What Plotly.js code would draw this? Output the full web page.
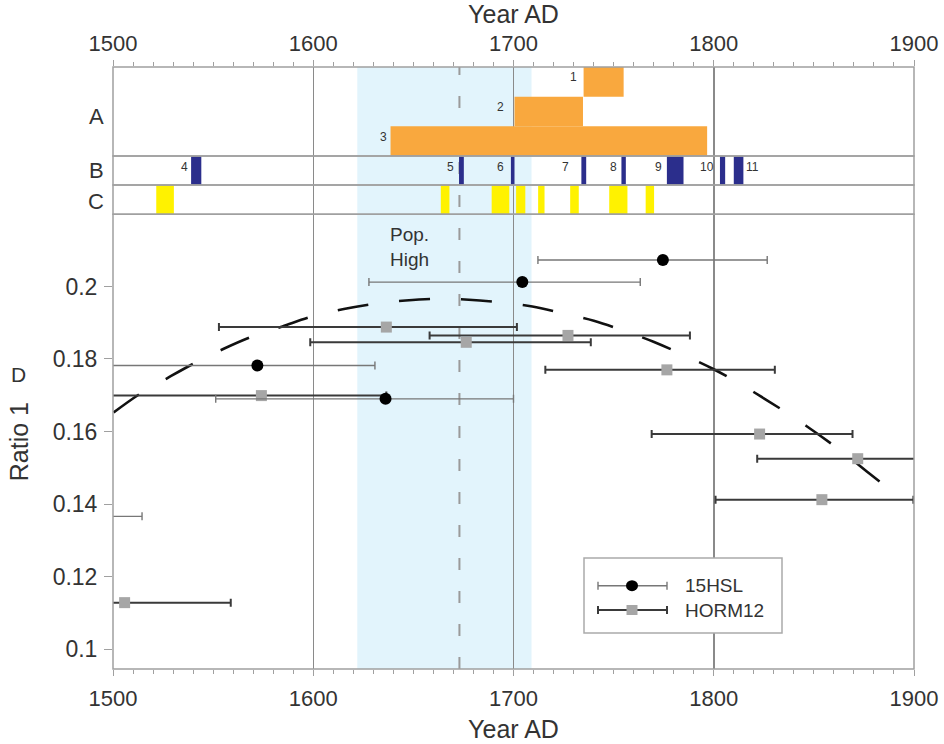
<!DOCTYPE html>
<html><head><meta charset="utf-8">
<script src="https://cdn.plot.ly/plotly-3.0.1.min.js"></script>
<style>html,body{margin:0;padding:0;background:#fff}</style>
</head><body><div id="chart" style="width:944px;height:744px"></div>
<script>
// ---------- DATA ----------
// Panel A (orange bars): rows top->bottom
const aLabels = ['1', '2', '3'];
const aStart = [1735, 1700.5, 1638.6];
const aEnd = [1755, 1734.7, 1796.7];
const aRow = [3, 2, 1];
const aLabelX = [1730, 1693.3, 1635.3];

// Panel B (blue bars)
const bLabels = ['4', '5', '6', '7', '8', '9', '10', '11'];
const bStart = [1539.0, 1672.8, 1698.7, 1733.9, 1753.9, 1776.6, 1803.1, 1810.0];
const bEnd = [1544.1, 1675.2, 1700.5, 1736.3, 1756.1, 1784.9, 1805.7, 1814.8];
const bLabelX = [1535.5, 1668.6, 1693.3, 1725.9, 1749.7, 1772.2, 1796.5, 1819.5];

// Panel C (yellow bars)
const cStart = [1521.6, 1663.7, 1689.1, 1701.3, 1712.3, 1728.3, 1747.8, 1766.0];
const cEnd = [1530.4, 1668.0, 1697.9, 1705.9, 1715.5, 1732.6, 1756.9, 1770.2];

// Population high band and marker year
const popHigh = [1622, 1709];
const popLine = 1673;

// Panel D: 15HSL
const hslYear = [1774.6, 1704.4, 1572.1, 1636.1, 1459.5];
const hslRatio = [0.2073, 0.2012, 0.1782, 0.1690, 0.1366];
const hslPlus = [52.1, 58.9, 58.7, 63.9, 55.0];
const hslMinus = [62.4, 76.6, 80.0, 84.8, 60.0];

// Panel D: HORM12
const hormYear = [1636.5, 1676.4, 1727.2, 1776.6, 1822.9, 1871.9, 1854.0, 1505.8, 1574.1];
const hormRatio = [0.1888, 0.1846, 0.1865, 0.1770, 0.1593, 0.1525, 0.1412, 0.1128, 0.1699];
const hormPlus = [65.2, 62.2, 60.9, 53.9, 46.4, 40.0, 45.7, 53.0, 62.4];
const hormMinus = [83.6, 77.9, 69.1, 60.7, 53.9, 50.2, 53.1, 62.0, 75.0];

// Dashed trend curve
const curveYear = [1500.3, 1513.3, 1527.2, 1540.8, 1555.3, 1569.6, 1584.6, 1599.6, 1615.3, 1630.7,
  1646.1, 1662.3, 1677.7, 1693.6, 1709.4, 1724.7, 1740.1, 1755.1, 1769.9, 1784.3,
  1799.5, 1812.4, 1826.2, 1839.2, 1852.5, 1865.0, 1877.4, 1889.8];
const curveRatio = [0.16525, 0.17033, 0.17474, 0.17888, 0.18282, 0.18621, 0.18897, 0.19173, 0.19377, 0.19523,
  0.19614, 0.19661, 0.19633, 0.19559, 0.19449, 0.19255, 0.19054, 0.18778, 0.18475, 0.18125,
  0.17730, 0.17336, 0.16875, 0.16415, 0.15910, 0.15405, 0.14854, 0.14319];

// Axis ticks
const yTickVals = [0.1, 0.12, 0.14, 0.16, 0.18, 0.2];
const yTickText = ['0.1', '0.12', '0.14', '0.16', '0.18', '0.2'];
const xRange = [1500, 1900];
const yRange = [0.0945, 0.2199];

// ---------- LAYOUT HELPERS ----------
const W = 944, H = 744, mL = 113, mR = 30, mT = 67, mB = 75;
const plotW = W - mL - mR, plotH = H - mT - mB;
const py = p => (H - mB - p) / plotH;
const px = p => (p - mL) / plotW;
const FONT = 'Liberation Sans, Arial, Helvetica, sans-serif';
const TXT = '#333333';
const GRID = '#8a8a8a';
const FRAME = '#a0a0a0';

const dur = (s, e) => s.map((v, i) => e[i] - v);

const traces = [
  { type: 'bar', orientation: 'h', xaxis: 'x', yaxis: 'y4', y: aRow, base: aStart, x: dur(aStart, aEnd),
    width: aRow.map(() => 1), marker: { color: '#F9A83E', line: { width: 0 } } },
  // invisible companion on the top axis so that the top year axis is drawn
  { type: 'scatter', mode: 'markers', xaxis: 'x2', yaxis: 'y4', x: aStart, y: aRow,
    marker: { opacity: 0, size: 1 }, hoverinfo: 'skip' },
  { type: 'bar', orientation: 'h', xaxis: 'x', yaxis: 'y3', y: bStart.map(() => 0.5), base: bStart, x: dur(bStart, bEnd),
    width: bStart.map(() => 1), marker: { color: '#2B2E8C', line: { width: 0 } } },
  { type: 'bar', orientation: 'h', xaxis: 'x', yaxis: 'y2', y: cStart.map(() => 0.5), base: cStart, x: dur(cStart, cEnd),
    width: cStart.map(() => 1), marker: { color: '#FFF200', line: { width: 0 } } },
  { type: 'scatter', mode: 'lines', xaxis: 'x', yaxis: 'y', x: curveYear, y: curveRatio,
    line: { color: '#111', width: 2.6, dash: '31px,31px', shape: 'spline', smoothing: 1 } },
  { type: 'scatter', mode: 'markers', name: 'HORM12', xaxis: 'x', yaxis: 'y', x: hormYear, y: hormRatio,
    marker: { symbol: 'square', size: 11, color: '#A6A6A6' },
    error_x: { type: 'data', symmetric: false, array: hormPlus, arrayminus: hormMinus, color: '#3a3a3a', thickness: 2, width: 4 } },
  { type: 'scatter', mode: 'markers', name: '15HSL', xaxis: 'x', yaxis: 'y', x: hslYear, y: hslRatio,
    marker: { symbol: 'circle', size: 12, color: '#000' },
    error_x: { type: 'data', symmetric: false, array: hslPlus, arrayminus: hslMinus, color: '#777', thickness: 1.4, width: 4 } }
];

const xBase = {
  range: xRange, tick0: 1500, dtick: 100, ticks: 'outside', ticklen: 6, tickwidth: 1, tickcolor: FRAME,
  showline: false, zeroline: false, tickfont: { size: 22, color: TXT, family: FONT },
  minor: { dtick: 10, ticks: 'outside', ticklen: 4, tickwidth: 1, tickcolor: FRAME, showgrid: false },
  fixedrange: true
};

const panelAxis = (dom, rng) => ({ domain: dom, range: rng, showticklabels: false, ticks: '', showgrid: false,
  zeroline: false, showline: false, fixedrange: true });

const layout = {
  width: W, height: H, margin: { l: mL, r: mR, t: mT, b: mB },
  paper_bgcolor: '#ffffff', plot_bgcolor: 'rgba(0,0,0,0)',
  font: { family: FONT, color: TXT }, showlegend: false, hovermode: false, barmode: 'overlay',
  xaxis: Object.assign({}, xBase, { anchor: 'y', domain: [0, 1], showgrid: true, gridcolor: GRID, gridwidth: 1.5,
    ticklabelstandoff: 4,
    title: { text: 'Year AD', font: { size: 25, color: TXT, family: FONT }, standoff: 10 } }),
  xaxis2: Object.assign({}, xBase, { anchor: 'y4', overlaying: 'x', side: 'top', showgrid: false,
    ticklabelstandoff: 0,
    title: { text: 'Year AD', font: { size: 25, color: TXT, family: FONT }, standoff: 2 } }),
  yaxis: { domain: [0, py(214.3)], range: yRange, tickvals: yTickVals, ticktext: yTickText, ticks: 'outside',
    ticklen: 8, tickwidth: 1, tickcolor: FRAME, tickfont: { size: 23, color: TXT, family: FONT }, showgrid: false,
    zeroline: false, showline: false, fixedrange: true, ticklabelstandoff: 2,
    title: { text: 'Ratio 1', font: { size: 25, color: TXT, family: FONT }, standoff: 16 } },
  yaxis2: panelAxis([py(214.3), py(185)], [0, 1]),
  yaxis3: panelAxis([py(185), py(156)], [0, 1]),
  yaxis4: panelAxis([py(156), 1], [0.5, 3.5]),
  shapes: [],
  annotations: []
};

// Shaded population-high band and dashed line
layout.shapes.push({ type: 'rect', xref: 'x', yref: 'paper', x0: popHigh[0], x1: popHigh[1], y0: 0, y1: 1,
  fillcolor: '#E2F4FC', line: { width: 0 }, layer: 'below' });
layout.shapes.push({ type: 'line', xref: 'x', yref: 'paper', x0: popLine, x1: popLine, y0: 0, y1: 1,
  line: { color: '#9a9a9a', width: 2, dash: '12px,21px' }, layer: 'below' });

// Panel frames
['y', 'y2', 'y3', 'y4'].forEach(a => layout.shapes.push({ type: 'rect', xref: 'x domain', yref: a + ' domain',
  x0: 0, x1: 1, y0: 0, y1: 1, line: { color: FRAME, width: 1.5 }, fillcolor: 'rgba(0,0,0,0)', layer: 'above' }));

// Panel labels
const lab = (t, x, yref, y, size) => ({ text: t, xref: 'paper', x: x, yref: yref, y: y, showarrow: false,
  xanchor: 'center', yanchor: 'middle', font: { size: size, color: TXT, family: FONT } });
layout.annotations.push(lab('A', px(96), 'y4 domain', 0.44, 22));
layout.annotations.push(lab('B', px(96), 'y3 domain', 0.5, 22));
layout.annotations.push(lab('C', px(96), 'y2 domain', 0.44, 22));
layout.annotations.push(lab('D', px(18), 'y domain', 0.647, 21));

// Bar labels
aLabels.forEach((t, i) => layout.annotations.push({ text: t, xref: 'x', yref: 'y4', x: aLabelX[i], y: aRow[i] + 0.15,
  showarrow: false, xanchor: 'center', yanchor: 'middle', font: { size: 12, color: TXT, family: FONT } }));
bLabels.forEach((t, i) => layout.annotations.push({ text: t, xref: 'x', yref: 'y3', x: bLabelX[i], y: 0.62,
  showarrow: false, xanchor: 'center', yanchor: 'middle', font: { size: 12, color: TXT, family: FONT } }));

// Pop. High
layout.annotations.push({ text: 'Pop.<br>High', xref: 'x', yref: 'y', x: 1637.3, y: 0.2108, showarrow: false,
  xanchor: 'left', yanchor: 'middle', align: 'left', font: { size: 19, color: TXT, family: FONT } });

// Legend (drawn manually: box, error-bar samples, markers, texts)
const lgX0 = px(584), lgX1 = px(782), lgY0 = py(633), lgY1 = py(558);
layout.shapes.push({ type: 'rect', xref: 'paper', yref: 'paper', x0: lgX0, x1: lgX1, y0: lgY0, y1: lgY1,
  fillcolor: '#ffffff', line: { color: '#aaaaaa', width: 1.5 }, layer: 'above' });
const legendItems = [
  { name: '15HSL', y: py(585.7), color: '#777', w: 1.4, sym: 'circle', fill: '#000' },
  { name: 'HORM12', y: py(610), color: '#3a3a3a', w: 2, sym: 'square', fill: '#A6A6A6' }
];
const lx0 = px(598), lx1 = px(667), lmx = px(632), capH = 4 / plotH;
legendItems.forEach(it => {
  layout.shapes.push({ type: 'line', xref: 'paper', yref: 'paper', x0: lx0, x1: lx1, y0: it.y, y1: it.y,
    line: { color: it.color, width: it.w }, layer: 'above' });
  [lx0, lx1].forEach(cx => layout.shapes.push({ type: 'line', xref: 'paper', yref: 'paper', x0: cx, x1: cx,
    y0: it.y - capH, y1: it.y + capH, line: { color: it.color, width: it.w }, layer: 'above' }));
  const hw = (it.sym === 'circle' ? 6 : 5.5) / plotW, hh = (it.sym === 'circle' ? 5.5 : 5) / plotH;
  layout.shapes.push({ type: it.sym === 'circle' ? 'circle' : 'rect', xref: 'paper', yref: 'paper',
    x0: lmx - hw, x1: lmx + hw, y0: it.y - hh, y1: it.y + hh, fillcolor: it.fill, line: { width: 0 }, layer: 'above' });
  layout.annotations.push({ text: it.name, xref: 'paper', yref: 'paper', x: px(683), y: it.y, showarrow: false,
    xanchor: 'left', yanchor: 'middle', font: { size: 19, color: TXT, family: FONT } });
});

Plotly.newPlot('chart', traces, layout, { staticPlot: true, displayModeBar: false });
</script></body></html>
